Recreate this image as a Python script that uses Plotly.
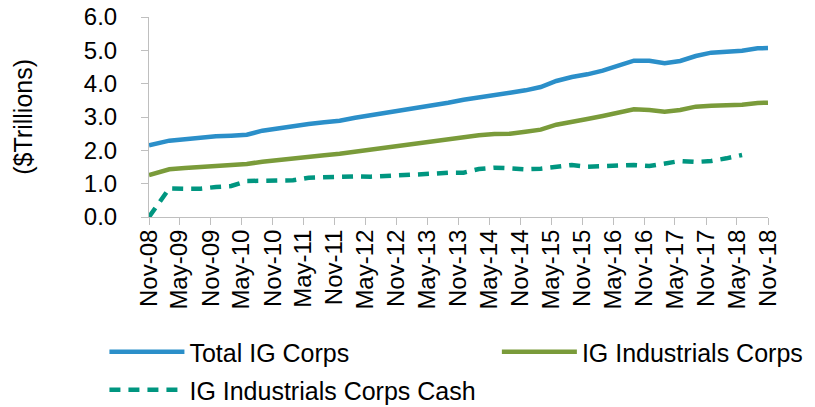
import plotly.graph_objects as go

dates = ["2008-11-01", "2009-03-01", "2009-06-01", "2009-09-01", "2009-12-01",
         "2010-03-01", "2010-06-01", "2010-09-01", "2010-12-01", "2011-03-01",
         "2011-06-01", "2011-09-01", "2011-12-01", "2012-03-01", "2012-06-01",
         "2012-09-01", "2012-12-01", "2013-03-01", "2013-06-01", "2013-09-01",
         "2013-12-01", "2014-03-01", "2014-06-01", "2014-09-01", "2014-12-01",
         "2015-03-01", "2015-06-01", "2015-09-01", "2015-12-01", "2016-03-01",
         "2016-06-01", "2016-09-01", "2016-12-01", "2017-03-01", "2017-06-01",
         "2017-09-01", "2017-12-01", "2018-03-01", "2018-06-01", "2018-09-01",
         "2018-11-01"]

total_ig = [2.15, 2.29, 2.33, 2.38, 2.42, 2.44, 2.47, 2.59, 2.66, 2.74,
            2.79, 2.84, 2.89, 2.98, 3.05, 3.12, 3.21, 3.28, 3.33, 3.43,
            3.52, 3.60, 3.68, 3.73, 3.80, 3.90, 4.08, 4.20, 4.28, 4.39,
            4.54, 4.69, 4.69, 4.61, 4.68, 4.83, 4.93, 4.96, 4.99, 5.06,
            5.07]

ig_industrials = [1.26, 1.43, 1.47, 1.50, 1.53, 1.55, 1.59, 1.66, 1.70, 1.75,
                  1.80, 1.85, 1.90, 1.96, 2.02, 2.10, 2.16, 2.22, 2.27, 2.35,
                  2.40, 2.45, 2.49, 2.50, 2.56, 2.62, 2.77, 2.87, 2.94, 3.03,
                  3.14, 3.23, 3.21, 3.16, 3.21, 3.31, 3.34, 3.35, 3.37, 3.42,
                  3.43]

ig_industrials_cash = [0.00, 0.86, 0.85, 0.85, 0.90, 0.93, 1.08, 1.08, 1.09, 1.10,
                       1.18, 1.20, 1.21, 1.22, 1.21, 1.23, 1.24, 1.25, 1.30, 1.33,
                       1.33, 1.44, 1.48, 1.46, 1.43, 1.45, 1.52, 1.56, 1.51, 1.53,
                       1.55, 1.56, 1.53, 1.62, 1.68, 1.65, 1.68, 1.76, 1.86, None,
                       None]

tick_dates = ["2008-11-01", "2009-05-01", "2009-11-01", "2010-05-01", "2010-11-01",
              "2011-05-01", "2011-11-01", "2012-05-01", "2012-11-01", "2013-05-01",
              "2013-11-01", "2014-05-01", "2014-11-01", "2015-05-01", "2015-11-01",
              "2016-05-01", "2016-11-01", "2017-05-01", "2017-11-01", "2018-05-01",
              "2018-11-01"]
tick_labels = ["Nov-08", "May-09", "Nov-09", "May-10", "Nov-10", "May-11", "Nov-11",
               "May-12", "Nov-12", "May-13", "Nov-13", "May-14", "Nov-14", "May-15",
               "Nov-15", "May-16", "Nov-16", "May-17", "Nov-17", "May-18", "Nov-18"]

FONT = "Liberation Sans, Arial, sans-serif"

fig = go.Figure()
fig.add_trace(go.Scatter(x=dates, y=total_ig, mode="lines", name="Total IG Corps",
                         line=dict(color="#2B8FC9", width=4.5), legend="legend",
                         showlegend=True))
fig.add_trace(go.Scatter(x=dates, y=ig_industrials, mode="lines", name="IG Industrials Corps",
                         line=dict(color="#7A9B3A", width=4.5), legend="legend2",
                         showlegend=True))
fig.add_trace(go.Scatter(x=dates, y=ig_industrials_cash, mode="lines",
                         name="IG Industrials Corps Cash", connectgaps=False,
                         line=dict(color="#009680", width=4.5, dash="11px,8px"),
                         legend="legend3", showlegend=True))

leg_common = dict(orientation="v", xanchor="left", yanchor="middle",
                  font=dict(family=FONT, size=25, color="#000000"),
                  bgcolor="rgba(0,0,0,0)", itemwidth=75)

fig.update_layout(
    width=823, height=407,
    showlegend=True,
    margin=dict(l=141, r=63, t=9, b=198, autoexpand=False),
    plot_bgcolor="white", paper_bgcolor="white",
    font=dict(family=FONT, color="#000000"),
    legend=dict(x=-0.072, y=-0.675, **leg_common),
    legend2=dict(x=0.562, y=-0.675, **leg_common),
    legend3=dict(x=-0.072, y=-0.865, **leg_common),
    xaxis=dict(type="date", range=["2008-11-01", "2018-11-01"],
               tickmode="array", tickvals=tick_dates, ticktext=tick_labels,
               tickangle=-90, ticks="outside", ticklen=7, tickcolor="#BFBFBF",
               showline=True, linecolor="#BFBFBF", linewidth=1, showgrid=False,
               zeroline=False, ticklabelstandoff=-5, ticklabeloverflow="allow",
               tickfont=dict(family=FONT, size=24, color="#000000")),
    yaxis=dict(range=[0, 6], dtick=1, tickformat=".1f", ticks="outside", ticklen=7,
               tickcolor="#BFBFBF", showline=True, linecolor="#BFBFBF", linewidth=1,
               showgrid=False, zeroline=False, ticklabelstandoff=19,
               ticklabeloverflow="allow",
               tickfont=dict(family=FONT, size=24, color="#000000")),
    annotations=[dict(text="($Trillions)", textangle=-90, xref="paper", yref="paper",
                      x=-0.204, y=0.5, xanchor="center", yanchor="middle",
                      showarrow=False, font=dict(family=FONT, size=25, color="#000000"))],
)

fig.write_html("out.html")
